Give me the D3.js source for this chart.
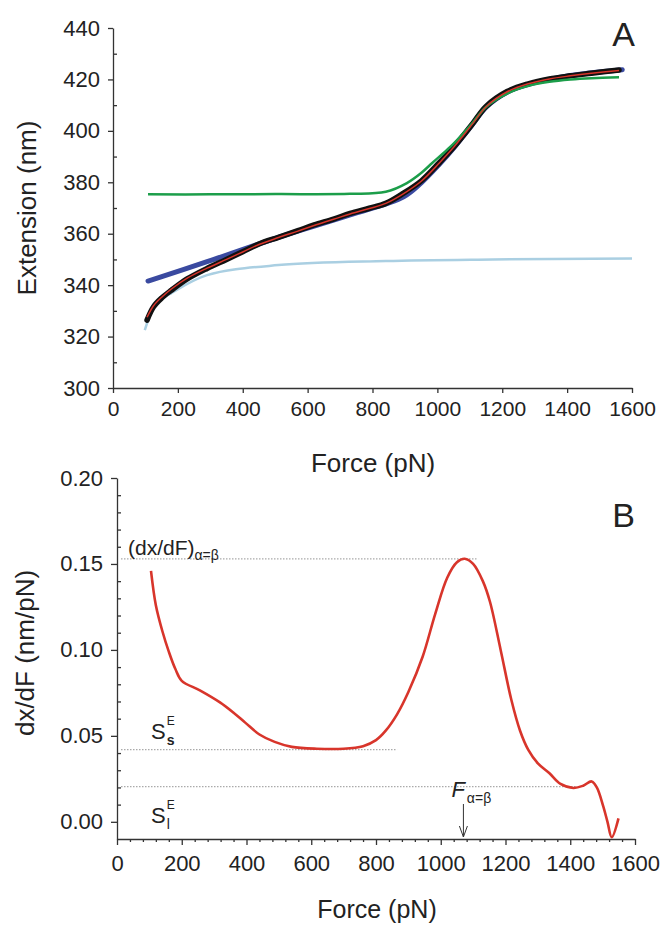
<!DOCTYPE html>
<html>
<head>
<meta charset="utf-8">
<script src="https://cdn.jsdelivr.net/npm/d3@7"></script>
<style>
  body { margin: 0; background: #fff; }
  text { font-family: "Liberation Sans", Arial, sans-serif; fill: #222; }
</style>
</head>
<body>
<svg id="chart" width="662" height="928"></svg>
<script>
// ---- panel A data (force pN -> extension nm)
const forceData = [105, 125, 150, 180, 230, 290, 350, 400, 450, 510, 570, 620, 680, 731, 790, 841, 896, 951, 1006, 1050, 1080, 1110, 1150, 1215, 1280, 1345, 1410, 1475, 1560];
const extData = [326.4, 331.6, 335, 338, 342.5, 346.5, 350, 353, 356, 358.6, 361.2, 363.4, 365.7, 367.9, 369.9, 371.8, 375.8, 380.6, 387.6, 393.6, 398.2, 403, 409.5, 415.3, 418.3, 420.2, 421.4, 422.4, 423.7];
const extFit = [327.5, 332, 335.3, 338.5, 342.8, 346.6, 350, 352.9, 355.8, 358.5, 361, 363.2, 365.6, 367.7, 369.8, 371.8, 375.6, 380.5, 387.5, 393.6, 398.2, 403, 409.4, 415.2, 418.3, 420.2, 421.4, 422.4, 423.5];

const forceGreen = [108, 300, 500, 731, 841, 906, 950, 984, 1020, 1050, 1080, 1110, 1150, 1215, 1280, 1345, 1410, 1475, 1560];
const extGreen = [375.3, 375.3, 375.4, 375.5, 376.3, 379.7, 383.6, 387.5, 391.5, 395, 399, 403.3, 409.3, 414.5, 417.5, 419.1, 420, 420.5, 420.8];

const forceBlue = [108, 290, 510, 731, 896, 951, 1006, 1050, 1080, 1110, 1150, 1215, 1280, 1345, 1410, 1475, 1570];
const extBlue = [341.6, 349.1, 358.6, 367.3, 374.4, 379.9, 387, 393.3, 398, 402.8, 409.2, 415, 418, 420, 421.5, 422.6, 423.8];

const forceLight = [98, 120, 140, 180, 290, 510, 841, 1171, 1600];
const extLight = [322.5, 330, 333.5, 336.9, 343.9, 347.8, 349.4, 350.0, 350.4];

const ticksA_x = [0, 200, 400, 600, 800, 1000, 1200, 1400, 1600];
const ticksA_y = [300, 320, 340, 360, 380, 400, 420, 440];

// ---- panel B data (force pN -> dx/dF nm/pN)
const forceB = [105, 120, 140, 160, 180, 200, 256, 318, 360, 396, 440, 487, 540, 617, 700, 760, 800, 830, 865, 900, 944, 983, 1020, 1050, 1074, 1100, 1130, 1152, 1185, 1218, 1245, 1270, 1300, 1335, 1370, 1410, 1440, 1466, 1482, 1502, 1515, 1528, 1549];
const slopeB = [0.146, 0.126, 0.111, 0.099, 0.089, 0.082, 0.0765, 0.0695, 0.0635, 0.0577, 0.0508, 0.0465, 0.0436, 0.0425, 0.0425, 0.0440, 0.0475, 0.053, 0.0625, 0.0755, 0.0960, 0.121, 0.142, 0.151, 0.153, 0.150, 0.140, 0.128, 0.100, 0.071, 0.053, 0.042, 0.034, 0.0284, 0.022, 0.0197, 0.021, 0.0235, 0.020, 0.009, 0.000, -0.009, 0.002];

const ticksB_x = [0, 200, 400, 600, 800, 1000, 1200, 1400, 1600];
const ticksB_y = [0, 0.05, 0.10, 0.15, 0.20];

// reference levels: [value, force where the dotted line stops]
const levelPeak = [0.153, 1113];
const levelSs = [0.042, 865];
const levelSl = [0.0205, 1420];
const forceAlphaBeta = 1070;

const svg = d3.select("#chart");

// ================= panel A
const xA = d3.scaleLinear().domain([0, 1600]).range([113, 632]);
const yA = d3.scaleLinear().domain([300, 440]).range([388, 28]);
const gA = svg.append("g");

const axStyle = g => {
  g.selectAll("path,line").attr("stroke", "#333").attr("stroke-width", 1.3);
  g.selectAll("text").attr("fill", "#222").style("font-family", "Liberation Sans, Arial, sans-serif");
};

gA.append("g").attr("transform", "translate(0,388)")
  .call(d3.axisBottom(xA).tickValues(ticksA_x).tickSize(5).tickSizeOuter(0).tickPadding(8).tickFormat(d3.format("d")))
  .call(axStyle).call(g => g.selectAll("text").attr("font-size", 21));

gA.append("g").attr("transform", "translate(113,0)")
  .call(d3.axisLeft(yA).tickValues(ticksA_y).tickSize(5).tickSizeOuter(0).tickPadding(8))
  .call(axStyle).call(g => g.selectAll("text").attr("font-size", 22));
gA.append("g").attr("transform", "translate(113,0)")
  .call(d3.axisLeft(yA).tickValues(d3.range(310, 440, 20)).tickSize(-4).tickFormat(""))
  .call(axStyle).call(g => g.select(".domain").remove());

const lineA = (fs, es) => d3.line().x((d, i) => xA(fs[i])).y(d => yA(d)).curve(d3.curveCatmullRom.alpha(0.5))(es);

gA.append("path").attr("d", lineA(forceLight, extLight)).attr("fill", "none")
  .attr("stroke", "#aacfe2").attr("stroke-width", 2.5);
gA.append("path").attr("d", lineA(forceBlue, extBlue)).attr("fill", "none")
  .attr("stroke", "#3a4aa0").attr("stroke-width", 5).attr("stroke-linecap", "round");
gA.append("path").attr("d", lineA(forceData, extData)).attr("fill", "none")
  .attr("stroke", "#111").attr("stroke-width", 5.5).attr("stroke-linecap", "round");
gA.append("path").attr("d", lineA(forceGreen, extGreen)).attr("fill", "none")
  .attr("stroke", "#1c9e4a").attr("stroke-width", 2.5);
gA.append("path").attr("d", lineA(forceData, extFit)).attr("fill", "none")
  .attr("stroke", "#d8352b").attr("stroke-width", 1.5);

gA.append("text").attr("x", 373).attr("y", 472).attr("text-anchor", "middle")
  .attr("font-size", 26).text("Force (pN)");
gA.append("text").attr("transform", "translate(36,208) rotate(-90)").attr("text-anchor", "middle")
  .attr("font-size", 26).text("Extension (nm)");
gA.append("text").attr("x", 635).attr("y", 46).attr("text-anchor", "end")
  .attr("font-size", 34).text("A");

// ================= panel B
const xB = d3.scaleLinear().domain([0, 1600]).range([117, 635]);
const yB = d3.scaleLinear().domain([-0.01, 0.20]).range([839, 478]);
const gB = svg.append("g");

gB.append("g").attr("transform", "translate(0,839)")
  .call(d3.axisBottom(xB).tickValues(ticksB_x).tickSize(6).tickSizeOuter(0).tickPadding(10).tickFormat(d3.format("d")))
  .call(axStyle).call(g => g.selectAll("text").attr("font-size", 22));
gB.append("g").attr("transform", "translate(0,839)")
  .call(d3.axisBottom(xB).tickValues(d3.range(0, 1600, 40).filter(v => v % 200 !== 0)).tickSize(3).tickFormat(""))
  .call(axStyle).call(g => g.select(".domain").remove());

gB.append("g").attr("transform", "translate(117,0)")
  .call(d3.axisLeft(yB).tickValues(ticksB_y).tickSize(6).tickSizeOuter(0).tickPadding(8).tickFormat(d3.format(".2f")))
  .call(axStyle).call(g => g.selectAll("text").attr("font-size", 22));
gB.append("g").attr("transform", "translate(117,0)")
  .call(d3.axisLeft(yB).tickValues(d3.range(1, 20).filter(v => v % 5 !== 0).map(v => v / 100)).tickSize(-4).tickFormat(""))
  .call(axStyle).call(g => g.select(".domain").remove());

// dotted reference levels
[levelPeak, levelSs, levelSl].forEach(([v, fEnd]) => {
  gB.append("line").attr("x1", xB(0) + 4).attr("x2", xB(fEnd))
    .attr("y1", yB(v)).attr("y2", yB(v))
    .attr("stroke", "#aaa").attr("stroke-width", 1.2).attr("stroke-dasharray", "1.5,1.5");
});

gB.append("path")
  .attr("d", d3.line().x((d, i) => xB(forceB[i])).y(d => yB(d)).curve(d3.curveCatmullRom.alpha(0.5))(slopeB))
  .attr("fill", "none").attr("stroke", "#d8352b").attr("stroke-width", 2.6);

// F alpha=beta arrow
const ax = xB(forceAlphaBeta);
gB.append("line").attr("x1", ax).attr("x2", ax).attr("y1", 804).attr("y2", 837)
  .attr("stroke", "#333").attr("stroke-width", 1);
gB.append("path").attr("d", `M${ax - 4},${826} L${ax},${837} L${ax + 4},${826}`)
  .attr("fill", "none").attr("stroke", "#333").attr("stroke-width", 1);

const fLab = gB.append("text").attr("x", ax - 12).attr("y", 797);
fLab.append("tspan").attr("font-size", 22).attr("font-style", "italic").text("F");
fLab.append("tspan").attr("font-size", 14).attr("dy", 6).attr("dx", 2).text("α=β");

const pk = gB.append("text").attr("x", 128).attr("y", 555);
pk.append("tspan").attr("font-size", 21).text("(dx/dF)");
pk.append("tspan").attr("font-size", 14).attr("dy", 5).text("α=β");

const sLabel = (y, sub) => {
  const t = gB.append("text").attr("x", 151).attr("y", y);
  t.append("tspan").attr("font-size", 22).text("S");
  t.append("tspan").attr("font-size", 12).attr("dy", -14).attr("dx", 1).text("E");
  t.append("tspan").attr("font-size", 14).attr("font-weight", sub === "s" ? "bold" : "normal")
    .attr("dy", 20).attr("dx", -8).text(sub);
};
sLabel(739, "s");
sLabel(823, "l");

gB.append("text").attr("x", 377).attr("y", 918).attr("text-anchor", "middle")
  .attr("font-size", 25).text("Force (pN)");
gB.append("text").attr("transform", "translate(34,653) rotate(-90)").attr("text-anchor", "middle")
  .attr("font-size", 26).text("dx/dF (nm/pN)");
gB.append("text").attr("x", 635).attr("y", 527).attr("text-anchor", "end")
  .attr("font-size", 34).text("B");
</script>
</body>
</html>
